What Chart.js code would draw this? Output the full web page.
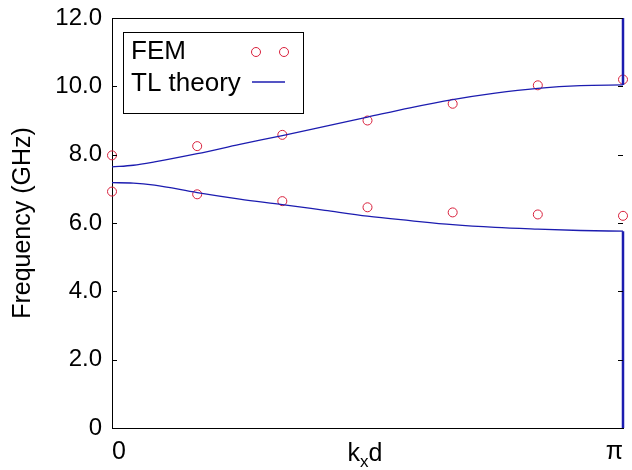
<!DOCTYPE html>
<html>
<head>
<meta charset="utf-8">
<script src="https://cdn.jsdelivr.net/npm/chart.js@4"></script>
<style>
  html, body { margin: 0; padding: 0; background: #fff; }
  #wrap { width: 632px; height: 470px; }
</style>
</head>
<body>
<div id="wrap"><canvas id="dispersion" width="632" height="470"></canvas></div>
<script>
// kx*d in units of pi
const kFem = [0, 0.1667, 0.3333, 0.5, 0.6667, 0.8333, 1];
const femUpper = [7.98, 8.25, 8.58, 9.0, 9.49, 10.03, 10.2];
const femLower = [6.92, 6.84, 6.64, 6.46, 6.31, 6.25, 6.21];

const kTheory = [0, 0.0417, 0.0833, 0.1667, 0.25, 0.3333, 0.4167, 0.5, 0.5833, 0.6667, 0.75, 0.8333, 0.9167, 1];
const tlUpper = [7.64, 7.69, 7.79, 8.03, 8.30, 8.56, 8.83, 9.10, 9.37, 9.61, 9.80, 9.94, 10.02, 10.04];
const tlLower = [7.18, 7.17, 7.11, 6.89, 6.70, 6.54, 6.37, 6.20, 6.07, 5.95, 5.87, 5.82, 5.78, 5.76];

// vertical theory branches at the zone edge
const kEdge = [1, 1];
const edgeUpper = [10.04, 12];
const edgeLower = [5.76, 0];

const xTicks = [0, 1];
const xTickLabels = ['0', 'π'];
const yTicks = [0, 2, 4, 6, 8, 10, 12];

const FONT = 'Liberation Sans, Arial, sans-serif';
const femColor = '#d8203c';
const tlColor = '#1c1cb0';

const pairs = (xs, ys) => xs.map((x, i) => ({ x: x, y: ys[i] }));

// frame, inner ticks, kxd label and legend
const extras = {
    id: 'extras',
    afterDatasetsDraw(chart) {
        const c = chart.ctx;
        const a = chart.chartArea;
        const ys = chart.scales.y;
        c.save();
        c.strokeStyle = '#000';
        c.lineWidth = 1;
        c.beginPath();
        c.moveTo(a.left, a.top + 0.5);
        c.lineTo(a.right, a.top + 0.5);
        yTicks.forEach(v => {
            const py = Math.round(ys.getPixelForValue(v)) + 0.5;
            c.moveTo(a.left, py); c.lineTo(a.left + 5, py);
            c.moveTo(a.right, py); c.lineTo(a.right - 5, py);
        });
        c.stroke();

        // axis label k_x d
        c.fillStyle = '#000';
        c.textBaseline = 'alphabetic';
        c.textAlign = 'left';
        c.font = '25px ' + FONT;
        const wk = c.measureText('k').width;
        const wd = c.measureText('d').width;
        c.font = '17px ' + FONT;
        const wx = c.measureText('x').width;
        let x0 = 365 - (wk + wx + wd) / 2;
        c.font = '25px ' + FONT;
        c.fillText('k', x0, 461);
        c.font = '17px ' + FONT;
        c.fillText('x', x0 + wk, 467);
        c.font = '25px ' + FONT;
        c.fillText('d', x0 + wk + wx, 461);

        // legend box
        c.strokeStyle = '#000';
        c.strokeRect(123.5, 32.5, 180, 81);
        c.font = '26px ' + FONT;
        c.fillText('FEM', 131, 59);
        c.fillText('TL theory', 131, 91);
        c.strokeStyle = femColor;
        [256, 284].forEach(cx => {
            c.beginPath();
            c.arc(cx, 52, 4.5, 0, Math.PI * 2);
            c.stroke();
        });
        c.strokeStyle = tlColor;
        c.lineWidth = 1.3;
        c.beginPath();
        c.moveTo(252, 82);
        c.lineTo(285, 82);
        c.stroke();
        c.restore();
    }
};

const curveStyle = {
    type: 'line',
    borderColor: tlColor,
    borderWidth: 1.3,
    pointRadius: 0,
    cubicInterpolationMode: 'monotone',
    fill: false
};

const edgeStyle = {
    type: 'line',
    borderColor: tlColor,
    borderWidth: 2.5,
    pointRadius: 0,
    tension: 0,
    fill: false
};

const pointStyle = {
    type: 'scatter',
    showLine: false,
    pointStyle: 'circle',
    pointRadius: 4.5,
    borderColor: femColor,
    borderWidth: 1,
    backgroundColor: 'rgba(0,0,0,0)'
};

new Chart(document.getElementById('dispersion'), {
    type: 'line',
    data: {
        datasets: [
            Object.assign({ label: 'TL theory', data: pairs(kTheory, tlUpper) }, curveStyle),
            Object.assign({ label: 'TL theory lower', data: pairs(kTheory, tlLower) }, curveStyle),
            Object.assign({ label: 'edge upper', data: pairs(kEdge, edgeUpper) }, edgeStyle),
            Object.assign({ label: 'edge lower', data: pairs(kEdge, edgeLower) }, edgeStyle),
            Object.assign({ label: 'FEM', data: pairs(kFem, femUpper) }, pointStyle),
            Object.assign({ label: 'FEM lower', data: pairs(kFem, femLower) }, pointStyle)
        ]
    },
    options: {
        responsive: false,
        animation: false,
        clip: false,
        layout: { padding: { top: 18, right: 7, left: 0, bottom: 0 } },
        plugins: {
            legend: { display: false },
            tooltip: { enabled: false }
        },
        scales: {
            x: {
                type: 'linear',
                min: 0,
                max: 1,
                afterBuildTicks: s => { s.ticks = xTicks.map(v => ({ value: v })); },
                afterFit: s => { s.height = 42; },
                grid: { display: false, drawTicks: false },
                border: { display: true, color: '#000', width: 1 },
                ticks: {
                    align: 'inner',
                    padding: 9,
                    color: '#000',
                    font: { family: FONT, size: 25 },
                    callback: v => xTickLabels[xTicks.indexOf(v)]
                }
            },
            y: {
                min: 0,
                max: 12,
                afterBuildTicks: s => { s.ticks = yTicks.map(v => ({ value: v })); },
                afterFit: s => { s.width = 112; s.paddingTop = 0; s.paddingBottom = 0; },
                grid: { display: false, drawTicks: false },
                border: { display: true, color: '#000', width: 1 },
                ticks: {
                    padding: 10,
                    color: '#000',
                    font: { family: FONT, size: 24 },
                    callback: v => (v === 0 ? '0' : v.toFixed(1))
                },
                title: {
                    display: true,
                    text: 'Frequency (GHz)',
                    color: '#000',
                    font: { family: FONT, size: 25 },
                    padding: { top: 8, bottom: 0 }
                }
            }
        }
    },
    plugins: [extras]
});
</script>
</body>
</html>
